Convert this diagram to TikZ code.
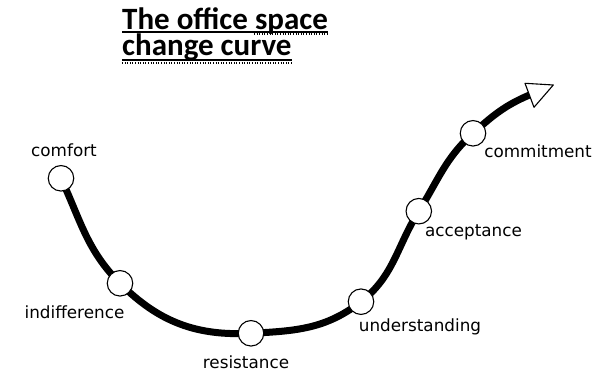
\documentclass[tikz,border=0pt]{standalone}
\usepackage{fontspec}
\setmainfont{DejaVu Sans}
\newfontfamily\titlefont{Carlito}
\usetikzlibrary{backgrounds}
\tikzset{
  stage/.style={circle,draw=black,line width=1.1pt,fill=white,minimum size=25.5pt,inner sep=0pt},
  lbl/.style={anchor=base,inner sep=0pt,font=\fontsize{16.8}{18}\selectfont},
  curveline/.style={line width=7pt,line cap=round},
  ttl/.style={anchor=base west,inner sep=0pt,font=\titlefont\bfseries\fontsize{31}{31}\selectfont},
  uline/.style={line width=2pt},
  squig/.style={line width=1.2pt,dash pattern=on 1pt off 1.6pt}
}
\begin{document}
\begin{tikzpicture}[x=1pt,y=1pt]
\useasboundingbox (0,0) rectangle (614,374);
% title
\node[ttl,text depth=0pt] (t1) at (122,344.7) {The office space};
\node[ttl,text height=20pt] (t2) at (122,318) {change curve};
\draw[uline] (t1.base west)++(0,-2.6) coordinate (u1a) -- (u1a -| t1.east);
\draw[uline] (t2.base west)++(0,-3.6) coordinate (u2a) -- (u2a -| t2.east);
\draw[squig] (254,340) -- (t1.east |- 0,340);
\draw[squig] (122,311) -- (t2.east |- 0,311);
% stages
\node[stage] (c1) at (61,195.7) {};
\node[stage] (c2) at (120,90.7) {};
\node[stage] (c3) at (251,40.7) {};
\node[stage] (c4) at (361,72.3) {};
\node[stage] (c5) at (418.8,162.8) {};
\node[stage] (c6) at (473,240.7) {};
\coordinate (e) at (529.5,279);
\coordinate (tip) at (553.3,289);
\coordinate (b1) at (525,290.7);
\coordinate (b2) at (534,266.7);
\begin{pgfonlayer}{background}
\draw[curveline] (c1.center) to[out=-65,in=135] (c2.center)
  to[out=-45,in=183] (c3.center)
  to[out=3,in=218] (c4.center)
  to[out=38,in=238] (c5.center)
  to[out=58,in=222] (c6.center)
  to[out=42,in=203] (e);
\end{pgfonlayer}
\draw[line width=1.1pt,fill=white,line join=round] (tip) -- (b1) -- (b2) -- cycle;
% labels
\node[lbl] (l1) at (64,217) {comfort};
\node[lbl] (l2) at (74.5,55) {indifference};
\node[lbl] (l3) at (246,5) {resistance};
\node[lbl] (l4) at (420,42) {understanding};
\node[lbl] (l5) at (473.5,137) {acceptance};
\node[lbl] (l6) at (538,216) {commitment};
\end{tikzpicture}
\end{document}
